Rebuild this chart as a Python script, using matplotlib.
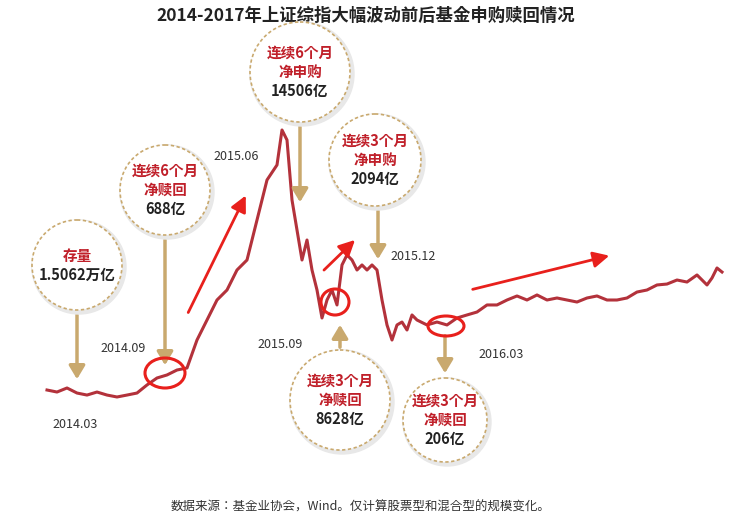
import numpy as np
import matplotlib.pyplot as plt
from matplotlib import font_manager
from matplotlib.patches import Ellipse, Circle, FancyArrowPatch

cjk = sorted([f for f in font_manager.findSystemFonts() if 'cjk' in f.lower() and 'sans' in f.lower()])
if cjk:
    font_manager.fontManager.addfont(cjk[0])
    fam = font_manager.FontProperties(fname=cjk[0]).get_name()
    plt.rcParams['font.family'] = ['Noto Sans CJK SC', fam, 'DejaVu Sans']

# approximate Shanghai composite levels, sampled along the time axis
t_pos = [47, 57, 67, 77, 87, 97, 107, 117, 127, 137, 147, 157, 167, 177, 187, 197, 207, 217, 227, 237,
         247, 257, 267, 277, 282, 287, 292, 297, 302, 307, 312, 317, 322, 327, 332, 337, 342, 347, 352, 357,
         362, 367, 372, 377, 382, 387, 392, 397, 402, 407, 412, 417, 427, 437, 447, 457, 467, 477, 487, 497,
         507, 517, 527, 537, 547, 557, 567, 577, 587, 597, 607, 617, 627, 637, 647, 657, 667, 677, 687, 697,
         707, 712, 717, 722]
index_vals = [2000, 1976, 2024, 1964, 1940, 1976, 1940, 1917, 1940, 1964, 2060, 2143, 2179, 2238, 2262, 2595,
              2833, 3071, 3190, 3428, 3547, 4023, 4499, 4678, 5094, 4975, 4261, 3904, 3547, 3785, 3428, 3190,
              2857, 3071, 3190, 3012, 3488, 3607, 3547, 3428, 3488, 3428, 3488, 3428, 3071, 2774, 2595, 2774,
              2809, 2714, 2893, 2833, 2774, 2809, 2774, 2857, 2893, 2928, 3012, 3012, 3071, 3119, 3071, 3131,
              3071, 3095, 3071, 3047, 3095, 3119, 3071, 3071, 3095, 3166, 3190, 3250, 3261, 3309, 3285, 3369,
              3250, 3333, 3452, 3404]

date_labels = ['2014.03', '2014.09', '2015.06', '2015.09', '2015.12', '2016.03']
date_xy = [(52, 425), (100, 348), (213, 157), (257, 345), (390, 257), (478, 355)]

notes = [(['存量'], '1.5062万亿'), (['连续6个月', '净赎回'], '688亿'), (['连续6个月', '净申购'], '14506亿'),
         (['连续3个月', '净申购'], '2094亿'), (['连续3个月', '净赎回'], '8628亿'), (['连续3个月', '净赎回'], '206亿')]
note_circ = [(77, 265, 45), (165, 190, 45), (300, 72, 50), (375, 160, 46), (340, 400, 50), (445, 420, 42)]
note_arrow = [(77, 312, 382), (165, 237, 368), (300, 124, 205), (378, 208, 262), (340, 350, 322), (445, 333, 376)]

W, H = 731, 529
fig = plt.figure(figsize=(W / 100, H / 100), dpi=100)
ax = fig.add_axes([0, 0, 1, 1])
ax.set_xlim(0, W)
ax.set_ylim(346, 6641)
ax.axis('off')
ax.plot(t_pos, index_vals, color='#b3323b', lw=2.2)

# pixel-space overlay for decorations
ov = fig.add_axes([0, 0, 1, 1])
ov.set_xlim(0, W)
ov.set_ylim(H, 0)
ov.axis('off')
ov.patch.set_alpha(0)

ov.text(W / 2, 16, '2014-2017年上证综指大幅波动前后基金申购赎回情况', ha='center', va='center',
        fontsize=12.5, fontweight='bold', color='#222222')
ov.text(W / 2 - 5, 507, '数据来源：基金业协会，Wind。仅计算股票型和混合型的规模变化。', ha='center', va='center',
        fontsize=9, color='#333333')

for lab, (x, y) in zip(date_labels, date_xy):
    ov.text(x, y, lab, fontsize=9, color='#333333', va='center')

tan = '#c9a96e'
for (x, y0, y1) in note_arrow:
    ov.add_patch(FancyArrowPatch((x, y0), (x, y1), arrowstyle='-|>,head_width=3,head_length=5',
                                 color=tan, lw=2.5, mutation_scale=1.6))

for (reds, black), (cx, cy, r) in zip(notes, note_circ):
    ov.add_patch(Circle((cx + 2, cy + 2), r + 2, color='#e8e8e8', zorder=3))
    ov.add_patch(Circle((cx, cy), r, facecolor='white', edgecolor=tan, lw=1.2, ls=(0, (2, 1.5)), zorder=4))
    n = len(reds) + 1
    for i, s in enumerate(reds + [black]):
        yy = cy + (i - (n - 1) / 2) * 19
        ov.text(cx, yy, s, ha='center', va='center', fontsize=10.5, fontweight='bold', zorder=5,
                color='#c0202a' if i < len(reds) else '#222222')

for (x, y, w, h) in [(165, 373, 40, 30), (335, 302, 28, 26), (446, 326, 36, 20)]:
    ov.add_patch(Ellipse((x, y), w, h, fill=False, edgecolor='#e8201c', lw=2.2, zorder=6))

for (a, b) in [((187, 315), (247, 193)), ((322, 272), (357, 238)), ((470, 290), (612, 255))]:
    ov.add_patch(FancyArrowPatch(a, b, arrowstyle='-|>,head_width=3,head_length=6', color='#e8201c',
                                 lw=2, mutation_scale=1.6, zorder=6))

fig.savefig('out.png', dpi=100)
